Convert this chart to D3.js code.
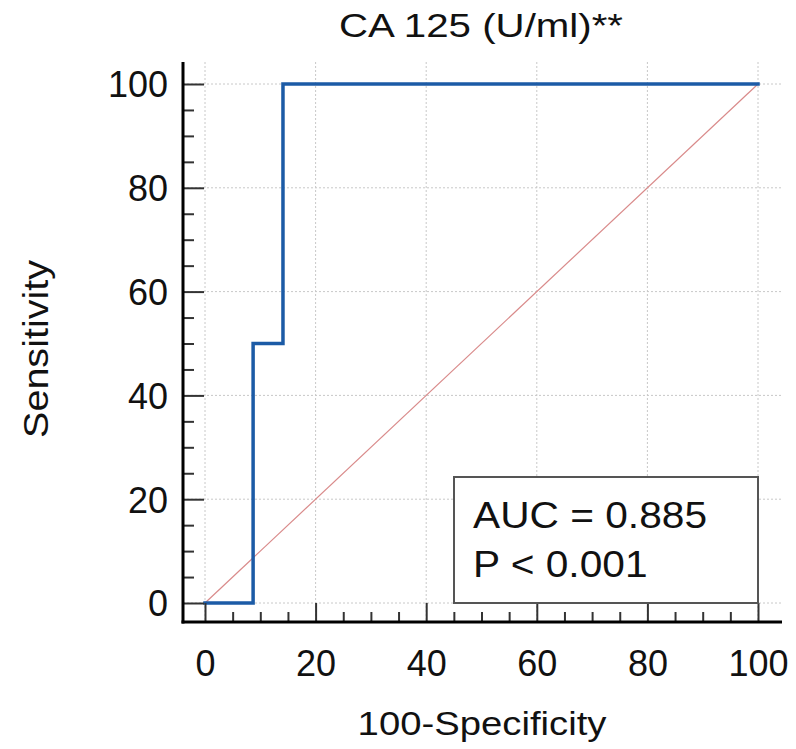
<!DOCTYPE html>
<html>
<head>
<meta charset="utf-8">
<script src="https://cdn.jsdelivr.net/npm/d3@7"></script>
<style>
  body { margin: 0; background: #fff; }
  text { font-family: "Liberation Sans", Arial, sans-serif; fill: #111; }
</style>
</head>
<body>
<div id="chart"></div>
<script>
// datos de la curva ROC
const title = "CA 125 (U/ml)**"
const xLabel = "100-Specificity"
const yLabel = "Sensitivity"
const rocX = [0, 8.7, 8.7, 14.1, 14.1, 100]   // 100-Specificity
const rocY = [0, 0, 50, 50, 100, 100]         // Sensitivity
const refX = [0, 100]
const refY = [0, 100]
const majorTicks = [0, 20, 40, 60, 80, 100]
const minorTicks = [5, 10, 15, 25, 30, 35, 45, 50, 55, 65, 70, 75, 85, 90, 95]
const statLines = ["AUC = 0.885", "P < 0.001"]

const width = 796
const height = 749
// limites del area del grafico
const box = { left: 183, right: 782, top: 62, bottom: 622 }

const svg = d3.select("div#chart").append("svg").attr("width", width).attr("height", height)

const x = d3.scaleLinear().domain([0, 100]).range([205, 758])
const y = d3.scaleLinear().domain([0, 100]).range([603, 84])

// texto estirado en horizontal (la imagen original esta ensanchada)
function stretchText(g, str, px, py, size, sx, anchor, rotate) {
    const t = g.append("text")
        .attr("transform", `translate(${px},${py})` + (rotate ? ` rotate(${rotate})` : "") + ` scale(${sx},1)`)
        .attr("text-anchor", anchor)
        .style("font-size", size + "px")
        .text(str)
    return t
}

// rejilla punteada
const grid = svg.append("g").attr("class", "grid")
grid.selectAll("line.h").data(majorTicks).enter().append("line")
    .attr("x1", box.left).attr("x2", box.right)
    .attr("y1", d => y(d)).attr("y2", d => y(d))
grid.selectAll("line.v").data(majorTicks).enter().append("line")
    .attr("y1", box.top).attr("y2", box.bottom)
    .attr("x1", d => x(d)).attr("x2", d => x(d))
grid.selectAll("line")
    .attr("stroke", "#c8c8c8").attr("stroke-width", 1).attr("stroke-dasharray", "2,2")

// diagonal de referencia
const line = d3.line().x(d => x(d[0])).y(d => y(d[1]))
svg.append("path")
    .attr("d", line(refX.map((d, i) => [d, refY[i]])))
    .attr("fill", "none").attr("stroke", "#d98a8a").attr("stroke-width", 1.2)

// curva ROC
svg.append("path")
    .attr("d", line(rocX.map((d, i) => [d, rocY[i]])))
    .attr("fill", "none").attr("stroke", "#1c5ba6").attr("stroke-width", 3.5)
    .attr("stroke-linejoin", "miter").attr("stroke-linecap", "square")

// ejes
const yAxis = d3.axisLeft(y).tickValues(majorTicks).tickSize(-21).tickPadding(15)
const yMinor = d3.axisLeft(y).tickValues(minorTicks).tickSize(-11).tickFormat("")
const xAxis = d3.axisBottom(x).tickValues(majorTicks).tickSize(-19).tickPadding(28)
const xMinor = d3.axisBottom(x).tickValues(minorTicks).tickSize(-10).tickFormat("")

const yG = svg.append("g").attr("transform", `translate(${box.left},0)`)
yG.call(yAxis)
yG.append("g").call(yMinor)
const xG = svg.append("g").attr("transform", `translate(0,${box.bottom})`)
xG.call(xAxis)
xG.append("g").call(xMinor)

svg.selectAll(".domain").remove()
svg.selectAll(".tick line").attr("stroke", "#333").attr("stroke-width", 2)
svg.selectAll(".tick text").style("font-size", "36px")
    .style("font-family", "'Liberation Sans', Arial, sans-serif").attr("fill", "#111")
yG.selectAll(".tick text").attr("dy", "0.36em")

// lineas de los ejes
svg.append("line").attr("x1", box.left).attr("x2", box.left).attr("y1", box.top).attr("y2", box.bottom + 1.5)
    .attr("stroke", "#000").attr("stroke-width", 3)
svg.append("line").attr("x1", box.left - 1.5).attr("x2", box.right).attr("y1", box.bottom).attr("y2", box.bottom)
    .attr("stroke", "#000").attr("stroke-width", 3)

// recuadro con AUC
const legend = svg.append("g")
legend.append("rect")
    .attr("x", 454).attr("y", 477).attr("width", 304).attr("height", 126)
    .attr("fill", "#fff").attr("stroke", "#555").attr("stroke-width", 2)
stretchText(legend, statLines[0], 473, 528, 36, 1.13, "start")
stretchText(legend, statLines[1], 473, 577, 36, 1.13, "start")

// titulos
stretchText(svg, title, 481, 37, 33, 1.22, "middle")
stretchText(svg, xLabel, 482, 735, 33, 1.16, "middle")
stretchText(svg, yLabel, 48, 349, 35, 1.13, "middle", -90)
</script>
</body>
</html>
